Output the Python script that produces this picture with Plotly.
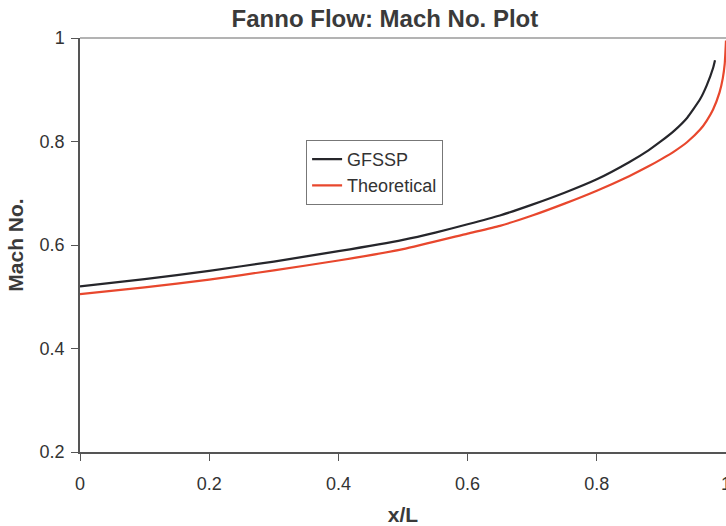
import plotly.graph_objects as go

# x/L positions and Mach numbers
x_gfssp = [0.0, 0.1, 0.2, 0.3, 0.4, 0.5, 0.55, 0.6, 0.65, 0.7, 0.75, 0.8, 0.85, 0.88, 0.9, 0.92, 0.94, 0.96, 0.97, 0.98, 0.983]
m_gfssp = [0.520, 0.534, 0.550, 0.568, 0.588, 0.610, 0.624, 0.640, 0.657, 0.678, 0.701, 0.727, 0.760, 0.783, 0.801, 0.821, 0.846, 0.882, 0.908, 0.942, 0.957]

x_theory = [0.0, 0.1, 0.2, 0.3, 0.4, 0.5, 0.6, 0.65, 0.7, 0.75, 0.8, 0.85, 0.88, 0.9, 0.92, 0.94, 0.96, 0.97, 0.98, 0.99, 0.995, 0.998, 1.0]
m_theory = [0.505, 0.518, 0.533, 0.551, 0.570, 0.592, 0.622, 0.637, 0.657, 0.680, 0.705, 0.733, 0.752, 0.766, 0.781, 0.799, 0.823, 0.840, 0.862, 0.895, 0.922, 0.950, 0.995]

x_ticks = [0, 0.2, 0.4, 0.6, 0.8, 1]
y_ticks = [0.2, 0.4, 0.6, 0.8, 1]

FONT = "Liberation Sans, Arial, sans-serif"

fig = go.Figure()
fig.add_trace(go.Scatter(x=x_gfssp, y=m_gfssp, mode="lines", name="GFSSP",
                         line=dict(color="#26262b", width=2.2, shape="spline", smoothing=0.5)))
fig.add_trace(go.Scatter(x=x_theory, y=m_theory, mode="lines", name="Theoretical",
                         line=dict(color="#e8472d", width=2.2, shape="spline", smoothing=0.5)))

fig.update_layout(
    width=726, height=526,
    margin=dict(l=80, r=0, t=38, b=74, autoexpand=False),
    paper_bgcolor="white", plot_bgcolor="white",
    font=dict(family=FONT, color="#333333", size=18),
    title=dict(text="<b>Fanno Flow: Mach No. Plot</b>", font=dict(size=24, color="#3a3a3a"),
               x=0.472, xref="paper", xanchor="center", y=0.964, yref="container", yanchor="middle"),
    showlegend=True,
    legend=dict(x=0.35, y=0.754, xanchor="left", yanchor="top",
                bgcolor="white", bordercolor="#777777", borderwidth=1,
                font=dict(size=18, color="#333333"), tracegroupgap=0, itemwidth=30),
    xaxis=dict(range=[0, 1], tickvals=x_ticks, ticktext=["0", "0.2", "0.4", "0.6", "0.8", "1"],
               showgrid=False, zeroline=False, showline=True, linecolor="#555555", linewidth=1.5,
               ticks="outside", ticklen=7, tickcolor="#555555", ticklabeloverflow="allow",
               ticklabelstandoff=8, automargin=False,
               title=dict(text="<b>x/L</b>", font=dict(size=21, color="#3a3a3a"), standoff=14)),
    yaxis=dict(range=[0.2, 1], tickvals=y_ticks, ticktext=["0.2", "0.4", "0.6", "0.8", "1"],
               showgrid=False, zeroline=False, showline=True, linecolor="#555555", linewidth=1.5,
               ticks="outside", ticklen=7, tickcolor="#555555", ticklabelstandoff=3, automargin=False,
               title=dict(text="<b>Mach No.</b>", font=dict(size=21, color="#3a3a3a"), standoff=10)),
)

# plot-area top border (Excel style, light gray)
fig.add_shape(type="line", xref="paper", yref="paper", x0=0, x1=1, y0=1, y1=1,
              line=dict(color="#9a9a9a", width=1.5))

# remove the default page margin so the 726x526 figure fills the window exactly
fig.write_html("out.html", config={"displayModeBar": False},
               post_script="document.body.style.margin='0';document.body.style.overflow='hidden';")
